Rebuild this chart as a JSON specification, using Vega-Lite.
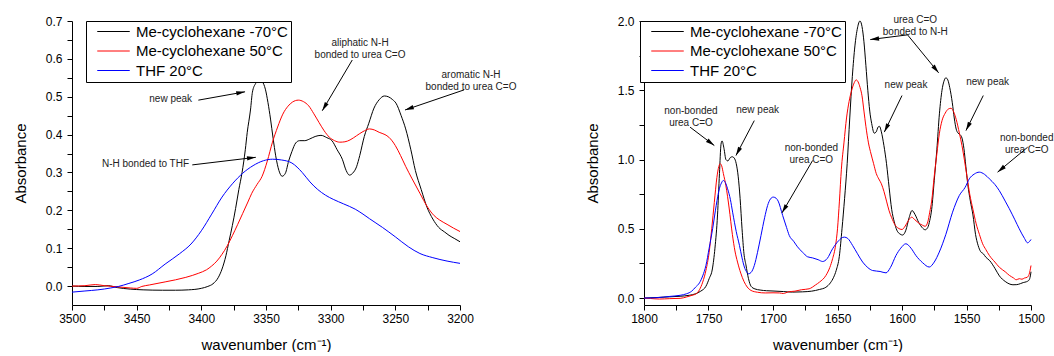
{
  "$schema": "https://vega.github.io/schema/vega-lite/v6.json",
  "padding": {"left": 13, "top": 14, "right": 0, "bottom": 0},
  "bounds": "flush",
  "spacing": 184,
  "config": {
    "font": "Liberation Sans",
    "view": {"stroke": null},
    "axis": {"grid": false, "domainColor": "#000", "tickColor": "#000", "labelColor": "#000", "titleColor": "#000", "labelFontSize": 12, "titleFontSize": 15, "titleFontWeight": "normal", "tickSize": 5, "labelPadding": 3, "labelFlush": false, "labelOverlap": false},
    "axisX": {"titlePadding": 13},
    "axisY": {"titlePadding": 17, "labelPadding": 5},
    "legend": {"orient": "none", "strokeColor": "#000", "strokeWidth": 1, "fillColor": "#fff", "padding": 3, "symbolType": "M-2.5,0L2.5,0", "symbolSize": 169, "symbolStrokeWidth": 1, "symbolOffset": 17, "labelFontSize": 15, "labelColor": "#000", "labelOffset": 15, "rowPadding": 3.5, "title": null}
  },
  "resolve": {"scale": {"color": "independent"}, "legend": {"color": "independent"}},
  "datasets": {
    "left": [
      {"w":3500,"a":0.0,"s":"Me-cyclohexane -70°C"},{"w":3490,"a":-0.001,"s":"Me-cyclohexane -70°C"},{"w":3480,"a":-0.001,"s":"Me-cyclohexane -70°C"},{"w":3472,"a":0.001,"s":"Me-cyclohexane -70°C"},{"w":3465,"a":-0.004,"s":"Me-cyclohexane -70°C"},{"w":3455,"a":-0.008,"s":"Me-cyclohexane -70°C"},{"w":3445,"a":-0.010,"s":"Me-cyclohexane -70°C"},{"w":3430,"a":-0.011,"s":"Me-cyclohexane -70°C"},{"w":3420,"a":-0.011,"s":"Me-cyclohexane -70°C"},{"w":3410,"a":-0.010,"s":"Me-cyclohexane -70°C"},{"w":3400,"a":-0.006,"s":"Me-cyclohexane -70°C"},{"w":3395,"a":-0.001,"s":"Me-cyclohexane -70°C"},{"w":3391,"a":0.006,"s":"Me-cyclohexane -70°C"},{"w":3387,"a":0.022,"s":"Me-cyclohexane -70°C"},{"w":3384,"a":0.045,"s":"Me-cyclohexane -70°C"},{"w":3381,"a":0.08,"s":"Me-cyclohexane -70°C"},{"w":3378.5,"a":0.12,"s":"Me-cyclohexane -70°C"},{"w":3376,"a":0.16,"s":"Me-cyclohexane -70°C"},{"w":3373.5,"a":0.205,"s":"Me-cyclohexane -70°C"},{"w":3371,"a":0.255,"s":"Me-cyclohexane -70°C"},{"w":3368.5,"a":0.30,"s":"Me-cyclohexane -70°C"},{"w":3366,"a":0.36,"s":"Me-cyclohexane -70°C"},{"w":3364.5,"a":0.406,"s":"Me-cyclohexane -70°C"},{"w":3362,"a":0.465,"s":"Me-cyclohexane -70°C"},{"w":3360.5,"a":0.512,"s":"Me-cyclohexane -70°C"},{"w":3358,"a":0.535,"s":"Me-cyclohexane -70°C"},{"w":3355.5,"a":0.544,"s":"Me-cyclohexane -70°C"},{"w":3353,"a":0.54,"s":"Me-cyclohexane -70°C"},{"w":3350.5,"a":0.52,"s":"Me-cyclohexane -70°C"},{"w":3348.5,"a":0.485,"s":"Me-cyclohexane -70°C"},{"w":3346.5,"a":0.441,"s":"Me-cyclohexane -70°C"},{"w":3344.5,"a":0.39,"s":"Me-cyclohexane -70°C"},{"w":3342.5,"a":0.344,"s":"Me-cyclohexane -70°C"},{"w":3340,"a":0.305,"s":"Me-cyclohexane -70°C"},{"w":3337.5,"a":0.29,"s":"Me-cyclohexane -70°C"},{"w":3335,"a":0.298,"s":"Me-cyclohexane -70°C"},{"w":3332.5,"a":0.33,"s":"Me-cyclohexane -70°C"},{"w":3330,"a":0.355,"s":"Me-cyclohexane -70°C"},{"w":3327,"a":0.378,"s":"Me-cyclohexane -70°C"},{"w":3324,"a":0.384,"s":"Me-cyclohexane -70°C"},{"w":3320,"a":0.384,"s":"Me-cyclohexane -70°C"},{"w":3316.5,"a":0.388,"s":"Me-cyclohexane -70°C"},{"w":3312,"a":0.395,"s":"Me-cyclohexane -70°C"},{"w":3307.5,"a":0.398,"s":"Me-cyclohexane -70°C"},{"w":3303,"a":0.392,"s":"Me-cyclohexane -70°C"},{"w":3299,"a":0.384,"s":"Me-cyclohexane -70°C"},{"w":3295,"a":0.36,"s":"Me-cyclohexane -70°C"},{"w":3291,"a":0.335,"s":"Me-cyclohexane -70°C"},{"w":3288,"a":0.305,"s":"Me-cyclohexane -70°C"},{"w":3285.5,"a":0.293,"s":"Me-cyclohexane -70°C"},{"w":3283,"a":0.298,"s":"Me-cyclohexane -70°C"},{"w":3280,"a":0.315,"s":"Me-cyclohexane -70°C"},{"w":3277.5,"a":0.345,"s":"Me-cyclohexane -70°C"},{"w":3274,"a":0.395,"s":"Me-cyclohexane -70°C"},{"w":3270.5,"a":0.43,"s":"Me-cyclohexane -70°C"},{"w":3266.5,"a":0.47,"s":"Me-cyclohexane -70°C"},{"w":3262.5,"a":0.492,"s":"Me-cyclohexane -70°C"},{"w":3258.5,"a":0.502,"s":"Me-cyclohexane -70°C"},{"w":3255.5,"a":0.5,"s":"Me-cyclohexane -70°C"},{"w":3252,"a":0.492,"s":"Me-cyclohexane -70°C"},{"w":3249.5,"a":0.483,"s":"Me-cyclohexane -70°C"},{"w":3245.5,"a":0.45,"s":"Me-cyclohexane -70°C"},{"w":3242,"a":0.415,"s":"Me-cyclohexane -70°C"},{"w":3238,"a":0.36,"s":"Me-cyclohexane -70°C"},{"w":3234.5,"a":0.305,"s":"Me-cyclohexane -70°C"},{"w":3230,"a":0.255,"s":"Me-cyclohexane -70°C"},{"w":3225.5,"a":0.208,"s":"Me-cyclohexane -70°C"},{"w":3221,"a":0.177,"s":"Me-cyclohexane -70°C"},{"w":3216.5,"a":0.155,"s":"Me-cyclohexane -70°C"},{"w":3212,"a":0.143,"s":"Me-cyclohexane -70°C"},{"w":3208.5,"a":0.134,"s":"Me-cyclohexane -70°C"},{"w":3204,"a":0.125,"s":"Me-cyclohexane -70°C"},{"w":3200,"a":0.117,"s":"Me-cyclohexane -70°C"},
      {"w":3500,"a":0.0,"s":"Me-cyclohexane 50°C"},{"w":3490,"a":0.001,"s":"Me-cyclohexane 50°C"},{"w":3482,"a":0.004,"s":"Me-cyclohexane 50°C"},{"w":3475,"a":0.001,"s":"Me-cyclohexane 50°C"},{"w":3465,"a":-0.002,"s":"Me-cyclohexane 50°C"},{"w":3455,"a":-0.005,"s":"Me-cyclohexane 50°C"},{"w":3450,"a":-0.006,"s":"Me-cyclohexane 50°C"},{"w":3446,"a":-0.001,"s":"Me-cyclohexane 50°C"},{"w":3440,"a":0.003,"s":"Me-cyclohexane 50°C"},{"w":3428,"a":0.011,"s":"Me-cyclohexane 50°C"},{"w":3412,"a":0.023,"s":"Me-cyclohexane 50°C"},{"w":3402,"a":0.034,"s":"Me-cyclohexane 50°C"},{"w":3396,"a":0.043,"s":"Me-cyclohexane 50°C"},{"w":3392,"a":0.053,"s":"Me-cyclohexane 50°C"},{"w":3388,"a":0.066,"s":"Me-cyclohexane 50°C"},{"w":3384,"a":0.084,"s":"Me-cyclohexane 50°C"},{"w":3380,"a":0.106,"s":"Me-cyclohexane 50°C"},{"w":3376,"a":0.133,"s":"Me-cyclohexane 50°C"},{"w":3372,"a":0.162,"s":"Me-cyclohexane 50°C"},{"w":3368,"a":0.192,"s":"Me-cyclohexane 50°C"},{"w":3364,"a":0.222,"s":"Me-cyclohexane 50°C"},{"w":3361,"a":0.245,"s":"Me-cyclohexane 50°C"},{"w":3357,"a":0.268,"s":"Me-cyclohexane 50°C"},{"w":3353,"a":0.29,"s":"Me-cyclohexane 50°C"},{"w":3349,"a":0.33,"s":"Me-cyclohexane 50°C"},{"w":3345,"a":0.38,"s":"Me-cyclohexane 50°C"},{"w":3341,"a":0.42,"s":"Me-cyclohexane 50°C"},{"w":3337,"a":0.454,"s":"Me-cyclohexane 50°C"},{"w":3333,"a":0.475,"s":"Me-cyclohexane 50°C"},{"w":3329.5,"a":0.486,"s":"Me-cyclohexane 50°C"},{"w":3325,"a":0.491,"s":"Me-cyclohexane 50°C"},{"w":3321,"a":0.487,"s":"Me-cyclohexane 50°C"},{"w":3317,"a":0.476,"s":"Me-cyclohexane 50°C"},{"w":3313,"a":0.455,"s":"Me-cyclohexane 50°C"},{"w":3309,"a":0.432,"s":"Me-cyclohexane 50°C"},{"w":3305,"a":0.41,"s":"Me-cyclohexane 50°C"},{"w":3301,"a":0.393,"s":"Me-cyclohexane 50°C"},{"w":3297,"a":0.384,"s":"Me-cyclohexane 50°C"},{"w":3293,"a":0.38,"s":"Me-cyclohexane 50°C"},{"w":3289,"a":0.381,"s":"Me-cyclohexane 50°C"},{"w":3285,"a":0.386,"s":"Me-cyclohexane 50°C"},{"w":3280,"a":0.397,"s":"Me-cyclohexane 50°C"},{"w":3275,"a":0.408,"s":"Me-cyclohexane 50°C"},{"w":3270,"a":0.415,"s":"Me-cyclohexane 50°C"},{"w":3266,"a":0.412,"s":"Me-cyclohexane 50°C"},{"w":3262.5,"a":0.406,"s":"Me-cyclohexane 50°C"},{"w":3258,"a":0.4,"s":"Me-cyclohexane 50°C"},{"w":3255,"a":0.393,"s":"Me-cyclohexane 50°C"},{"w":3250,"a":0.371,"s":"Me-cyclohexane 50°C"},{"w":3246,"a":0.345,"s":"Me-cyclohexane 50°C"},{"w":3242,"a":0.316,"s":"Me-cyclohexane 50°C"},{"w":3237,"a":0.283,"s":"Me-cyclohexane 50°C"},{"w":3231,"a":0.245,"s":"Me-cyclohexane 50°C"},{"w":3225,"a":0.208,"s":"Me-cyclohexane 50°C"},{"w":3220,"a":0.186,"s":"Me-cyclohexane 50°C"},{"w":3216,"a":0.175,"s":"Me-cyclohexane 50°C"},{"w":3210,"a":0.163,"s":"Me-cyclohexane 50°C"},{"w":3205,"a":0.153,"s":"Me-cyclohexane 50°C"},{"w":3200,"a":0.144,"s":"Me-cyclohexane 50°C"},
      {"w":3500,"a":-0.016,"s":"THF 20°C"},{"w":3490,"a":-0.013,"s":"THF 20°C"},{"w":3480,"a":-0.010,"s":"THF 20°C"},{"w":3470,"a":-0.005,"s":"THF 20°C"},{"w":3464,"a":-0.001,"s":"THF 20°C"},{"w":3456,"a":0.007,"s":"THF 20°C"},{"w":3448,"a":0.016,"s":"THF 20°C"},{"w":3438,"a":0.032,"s":"THF 20°C"},{"w":3428,"a":0.058,"s":"THF 20°C"},{"w":3417,"a":0.085,"s":"THF 20°C"},{"w":3408,"a":0.111,"s":"THF 20°C"},{"w":3400,"a":0.146,"s":"THF 20°C"},{"w":3392,"a":0.19,"s":"THF 20°C"},{"w":3384,"a":0.235,"s":"THF 20°C"},{"w":3376,"a":0.27,"s":"THF 20°C"},{"w":3368,"a":0.298,"s":"THF 20°C"},{"w":3360,"a":0.318,"s":"THF 20°C"},{"w":3352,"a":0.331,"s":"THF 20°C"},{"w":3345,"a":0.335,"s":"THF 20°C"},{"w":3338,"a":0.333,"s":"THF 20°C"},{"w":3330,"a":0.325,"s":"THF 20°C"},{"w":3322,"a":0.3,"s":"THF 20°C"},{"w":3316,"a":0.275,"s":"THF 20°C"},{"w":3310,"a":0.255,"s":"THF 20°C"},{"w":3304,"a":0.24,"s":"THF 20°C"},{"w":3298,"a":0.229,"s":"THF 20°C"},{"w":3290,"a":0.217,"s":"THF 20°C"},{"w":3281,"a":0.203,"s":"THF 20°C"},{"w":3275,"a":0.19,"s":"THF 20°C"},{"w":3270,"a":0.178,"s":"THF 20°C"},{"w":3260,"a":0.155,"s":"THF 20°C"},{"w":3250,"a":0.13,"s":"THF 20°C"},{"w":3240,"a":0.104,"s":"THF 20°C"},{"w":3231,"a":0.086,"s":"THF 20°C"},{"w":3221,"a":0.075,"s":"THF 20°C"},{"w":3210,"a":0.066,"s":"THF 20°C"},{"w":3200,"a":0.06,"s":"THF 20°C"}
    ],
    "right": [
      {"w":1800,"a":0.0,"s":"Me-cyclohexane -70°C"},{"w":1790,"a":0.004,"s":"Me-cyclohexane -70°C"},{"w":1780,"a":0.009,"s":"Me-cyclohexane -70°C"},{"w":1772,"a":0.013,"s":"Me-cyclohexane -70°C"},{"w":1765,"a":0.02,"s":"Me-cyclohexane -70°C"},{"w":1760,"a":0.031,"s":"Me-cyclohexane -70°C"},{"w":1756,"a":0.05,"s":"Me-cyclohexane -70°C"},{"w":1752,"a":0.085,"s":"Me-cyclohexane -70°C"},{"w":1749.5,"a":0.14,"s":"Me-cyclohexane -70°C"},{"w":1747,"a":0.21,"s":"Me-cyclohexane -70°C"},{"w":1745,"a":0.36,"s":"Me-cyclohexane -70°C"},{"w":1743,"a":0.6,"s":"Me-cyclohexane -70°C"},{"w":1741.5,"a":0.9,"s":"Me-cyclohexane -70°C"},{"w":1740.3,"a":1.11,"s":"Me-cyclohexane -70°C"},{"w":1739.5,"a":1.135,"s":"Me-cyclohexane -70°C"},{"w":1738,"a":1.08,"s":"Me-cyclohexane -70°C"},{"w":1736.5,"a":1.0,"s":"Me-cyclohexane -70°C"},{"w":1735,"a":0.99,"s":"Me-cyclohexane -70°C"},{"w":1733,"a":1.015,"s":"Me-cyclohexane -70°C"},{"w":1731.5,"a":1.02,"s":"Me-cyclohexane -70°C"},{"w":1730,"a":1.01,"s":"Me-cyclohexane -70°C"},{"w":1728.5,"a":0.97,"s":"Me-cyclohexane -70°C"},{"w":1727,"a":0.88,"s":"Me-cyclohexane -70°C"},{"w":1725.5,"a":0.72,"s":"Me-cyclohexane -70°C"},{"w":1724,"a":0.5,"s":"Me-cyclohexane -70°C"},{"w":1722.5,"a":0.32,"s":"Me-cyclohexane -70°C"},{"w":1721,"a":0.24,"s":"Me-cyclohexane -70°C"},{"w":1719,"a":0.14,"s":"Me-cyclohexane -70°C"},{"w":1717,"a":0.085,"s":"Me-cyclohexane -70°C"},{"w":1714,"a":0.066,"s":"Me-cyclohexane -70°C"},{"w":1710,"a":0.058,"s":"Me-cyclohexane -70°C"},{"w":1705,"a":0.053,"s":"Me-cyclohexane -70°C"},{"w":1700,"a":0.051,"s":"Me-cyclohexane -70°C"},{"w":1692,"a":0.047,"s":"Me-cyclohexane -70°C"},{"w":1685,"a":0.043,"s":"Me-cyclohexane -70°C"},{"w":1677,"a":0.045,"s":"Me-cyclohexane -70°C"},{"w":1670,"a":0.05,"s":"Me-cyclohexane -70°C"},{"w":1664,"a":0.062,"s":"Me-cyclohexane -70°C"},{"w":1659,"a":0.078,"s":"Me-cyclohexane -70°C"},{"w":1655.5,"a":0.11,"s":"Me-cyclohexane -70°C"},{"w":1653,"a":0.15,"s":"Me-cyclohexane -70°C"},{"w":1651,"a":0.2,"s":"Me-cyclohexane -70°C"},{"w":1648.6,"a":0.3,"s":"Me-cyclohexane -70°C"},{"w":1646.5,"a":0.5,"s":"Me-cyclohexane -70°C"},{"w":1644.5,"a":0.72,"s":"Me-cyclohexane -70°C"},{"w":1642.5,"a":0.97,"s":"Me-cyclohexane -70°C"},{"w":1640.5,"a":1.3,"s":"Me-cyclohexane -70°C"},{"w":1638.5,"a":1.6,"s":"Me-cyclohexane -70°C"},{"w":1636.5,"a":1.82,"s":"Me-cyclohexane -70°C"},{"w":1634.5,"a":1.95,"s":"Me-cyclohexane -70°C"},{"w":1632.6,"a":2.0,"s":"Me-cyclohexane -70°C"},{"w":1631,"a":1.96,"s":"Me-cyclohexane -70°C"},{"w":1629.5,"a":1.85,"s":"Me-cyclohexane -70°C"},{"w":1628,"a":1.68,"s":"Me-cyclohexane -70°C"},{"w":1626.5,"a":1.5,"s":"Me-cyclohexane -70°C"},{"w":1625,"a":1.35,"s":"Me-cyclohexane -70°C"},{"w":1623.5,"a":1.26,"s":"Me-cyclohexane -70°C"},{"w":1621.5,"a":1.19,"s":"Me-cyclohexane -70°C"},{"w":1620,"a":1.2,"s":"Me-cyclohexane -70°C"},{"w":1618.5,"a":1.235,"s":"Me-cyclohexane -70°C"},{"w":1617.5,"a":1.24,"s":"Me-cyclohexane -70°C"},{"w":1616,"a":1.2,"s":"Me-cyclohexane -70°C"},{"w":1614,"a":1.1,"s":"Me-cyclohexane -70°C"},{"w":1612,"a":0.97,"s":"Me-cyclohexane -70°C"},{"w":1610,"a":0.8,"s":"Me-cyclohexane -70°C"},{"w":1608,"a":0.64,"s":"Me-cyclohexane -70°C"},{"w":1606,"a":0.55,"s":"Me-cyclohexane -70°C"},{"w":1604,"a":0.49,"s":"Me-cyclohexane -70°C"},{"w":1601.5,"a":0.462,"s":"Me-cyclohexane -70°C"},{"w":1599.5,"a":0.455,"s":"Me-cyclohexane -70°C"},{"w":1597,"a":0.49,"s":"Me-cyclohexane -70°C"},{"w":1594.5,"a":0.58,"s":"Me-cyclohexane -70°C"},{"w":1592.2,"a":0.632,"s":"Me-cyclohexane -70°C"},{"w":1590,"a":0.605,"s":"Me-cyclohexane -70°C"},{"w":1587,"a":0.545,"s":"Me-cyclohexane -70°C"},{"w":1584.5,"a":0.51,"s":"Me-cyclohexane -70°C"},{"w":1582,"a":0.493,"s":"Me-cyclohexane -70°C"},{"w":1580,"a":0.51,"s":"Me-cyclohexane -70°C"},{"w":1578.5,"a":0.56,"s":"Me-cyclohexane -70°C"},{"w":1577,"a":0.64,"s":"Me-cyclohexane -70°C"},{"w":1575,"a":0.85,"s":"Me-cyclohexane -70°C"},{"w":1573,"a":1.07,"s":"Me-cyclohexane -70°C"},{"w":1571,"a":1.33,"s":"Me-cyclohexane -70°C"},{"w":1569,"a":1.5,"s":"Me-cyclohexane -70°C"},{"w":1567.5,"a":1.565,"s":"Me-cyclohexane -70°C"},{"w":1566,"a":1.59,"s":"Me-cyclohexane -70°C"},{"w":1564.5,"a":1.575,"s":"Me-cyclohexane -70°C"},{"w":1563,"a":1.52,"s":"Me-cyclohexane -70°C"},{"w":1561,"a":1.41,"s":"Me-cyclohexane -70°C"},{"w":1559.5,"a":1.3,"s":"Me-cyclohexane -70°C"},{"w":1558,"a":1.22,"s":"Me-cyclohexane -70°C"},{"w":1556.5,"a":1.19,"s":"Me-cyclohexane -70°C"},{"w":1555,"a":1.18,"s":"Me-cyclohexane -70°C"},{"w":1553.5,"a":1.155,"s":"Me-cyclohexane -70°C"},{"w":1552,"a":1.08,"s":"Me-cyclohexane -70°C"},{"w":1550.5,"a":0.95,"s":"Me-cyclohexane -70°C"},{"w":1549,"a":0.82,"s":"Me-cyclohexane -70°C"},{"w":1547,"a":0.7,"s":"Me-cyclohexane -70°C"},{"w":1545,"a":0.6,"s":"Me-cyclohexane -70°C"},{"w":1543,"a":0.46,"s":"Me-cyclohexane -70°C"},{"w":1541,"a":0.38,"s":"Me-cyclohexane -70°C"},{"w":1539,"a":0.335,"s":"Me-cyclohexane -70°C"},{"w":1537,"a":0.32,"s":"Me-cyclohexane -70°C"},{"w":1535,"a":0.295,"s":"Me-cyclohexane -70°C"},{"w":1532,"a":0.27,"s":"Me-cyclohexane -70°C"},{"w":1528,"a":0.215,"s":"Me-cyclohexane -70°C"},{"w":1524.5,"a":0.16,"s":"Me-cyclohexane -70°C"},{"w":1520,"a":0.12,"s":"Me-cyclohexane -70°C"},{"w":1517,"a":0.103,"s":"Me-cyclohexane -70°C"},{"w":1514,"a":0.096,"s":"Me-cyclohexane -70°C"},{"w":1511,"a":0.097,"s":"Me-cyclohexane -70°C"},{"w":1508,"a":0.105,"s":"Me-cyclohexane -70°C"},{"w":1506,"a":0.112,"s":"Me-cyclohexane -70°C"},{"w":1503.5,"a":0.118,"s":"Me-cyclohexane -70°C"},{"w":1501.5,"a":0.13,"s":"Me-cyclohexane -70°C"},{"w":1500.5,"a":0.16,"s":"Me-cyclohexane -70°C"},{"w":1500,"a":0.19,"s":"Me-cyclohexane -70°C"},
      {"w":1800,"a":0.0,"s":"Me-cyclohexane 50°C"},{"w":1795,"a":-0.003,"s":"Me-cyclohexane 50°C"},{"w":1788,"a":-0.007,"s":"Me-cyclohexane 50°C"},{"w":1780,"a":-0.004,"s":"Me-cyclohexane 50°C"},{"w":1772,"a":-0.002,"s":"Me-cyclohexane 50°C"},{"w":1767,"a":0.008,"s":"Me-cyclohexane 50°C"},{"w":1762,"a":0.022,"s":"Me-cyclohexane 50°C"},{"w":1759.5,"a":0.031,"s":"Me-cyclohexane 50°C"},{"w":1757,"a":0.06,"s":"Me-cyclohexane 50°C"},{"w":1754.5,"a":0.115,"s":"Me-cyclohexane 50°C"},{"w":1752,"a":0.2,"s":"Me-cyclohexane 50°C"},{"w":1749.5,"a":0.33,"s":"Me-cyclohexane 50°C"},{"w":1747.5,"a":0.5,"s":"Me-cyclohexane 50°C"},{"w":1745.5,"a":0.69,"s":"Me-cyclohexane 50°C"},{"w":1743.5,"a":0.87,"s":"Me-cyclohexane 50°C"},{"w":1742,"a":0.95,"s":"Me-cyclohexane 50°C"},{"w":1741,"a":0.97,"s":"Me-cyclohexane 50°C"},{"w":1739.8,"a":0.955,"s":"Me-cyclohexane 50°C"},{"w":1738.5,"a":0.9,"s":"Me-cyclohexane 50°C"},{"w":1736.5,"a":0.81,"s":"Me-cyclohexane 50°C"},{"w":1734,"a":0.65,"s":"Me-cyclohexane 50°C"},{"w":1731.5,"a":0.46,"s":"Me-cyclohexane 50°C"},{"w":1729.5,"a":0.34,"s":"Me-cyclohexane 50°C"},{"w":1727.5,"a":0.26,"s":"Me-cyclohexane 50°C"},{"w":1725,"a":0.18,"s":"Me-cyclohexane 50°C"},{"w":1722.5,"a":0.12,"s":"Me-cyclohexane 50°C"},{"w":1720,"a":0.08,"s":"Me-cyclohexane 50°C"},{"w":1717,"a":0.055,"s":"Me-cyclohexane 50°C"},{"w":1712,"a":0.042,"s":"Me-cyclohexane 50°C"},{"w":1706,"a":0.037,"s":"Me-cyclohexane 50°C"},{"w":1700,"a":0.038,"s":"Me-cyclohexane 50°C"},{"w":1695,"a":0.037,"s":"Me-cyclohexane 50°C"},{"w":1692,"a":0.033,"s":"Me-cyclohexane 50°C"},{"w":1688,"a":0.045,"s":"Me-cyclohexane 50°C"},{"w":1683,"a":0.05,"s":"Me-cyclohexane 50°C"},{"w":1678,"a":0.06,"s":"Me-cyclohexane 50°C"},{"w":1672,"a":0.067,"s":"Me-cyclohexane 50°C"},{"w":1667,"a":0.095,"s":"Me-cyclohexane 50°C"},{"w":1664,"a":0.115,"s":"Me-cyclohexane 50°C"},{"w":1659,"a":0.163,"s":"Me-cyclohexane 50°C"},{"w":1656,"a":0.22,"s":"Me-cyclohexane 50°C"},{"w":1653.8,"a":0.284,"s":"Me-cyclohexane 50°C"},{"w":1651.5,"a":0.38,"s":"Me-cyclohexane 50°C"},{"w":1650,"a":0.5,"s":"Me-cyclohexane 50°C"},{"w":1648.5,"a":0.7,"s":"Me-cyclohexane 50°C"},{"w":1647,"a":0.93,"s":"Me-cyclohexane 50°C"},{"w":1645,"a":1.12,"s":"Me-cyclohexane 50°C"},{"w":1643,"a":1.3,"s":"Me-cyclohexane 50°C"},{"w":1641,"a":1.42,"s":"Me-cyclohexane 50°C"},{"w":1639,"a":1.5,"s":"Me-cyclohexane 50°C"},{"w":1637,"a":1.555,"s":"Me-cyclohexane 50°C"},{"w":1635.5,"a":1.575,"s":"Me-cyclohexane 50°C"},{"w":1634,"a":1.56,"s":"Me-cyclohexane 50°C"},{"w":1632.5,"a":1.52,"s":"Me-cyclohexane 50°C"},{"w":1631,"a":1.46,"s":"Me-cyclohexane 50°C"},{"w":1629.5,"a":1.35,"s":"Me-cyclohexane 50°C"},{"w":1628,"a":1.24,"s":"Me-cyclohexane 50°C"},{"w":1626,"a":1.12,"s":"Me-cyclohexane 50°C"},{"w":1624,"a":1.04,"s":"Me-cyclohexane 50°C"},{"w":1622,"a":0.97,"s":"Me-cyclohexane 50°C"},{"w":1620,"a":0.9,"s":"Me-cyclohexane 50°C"},{"w":1618,"a":0.86,"s":"Me-cyclohexane 50°C"},{"w":1616,"a":0.825,"s":"Me-cyclohexane 50°C"},{"w":1614,"a":0.77,"s":"Me-cyclohexane 50°C"},{"w":1612,"a":0.7,"s":"Me-cyclohexane 50°C"},{"w":1610,"a":0.63,"s":"Me-cyclohexane 50°C"},{"w":1608,"a":0.58,"s":"Me-cyclohexane 50°C"},{"w":1605.5,"a":0.53,"s":"Me-cyclohexane 50°C"},{"w":1603,"a":0.505,"s":"Me-cyclohexane 50°C"},{"w":1600,"a":0.495,"s":"Me-cyclohexane 50°C"},{"w":1597.5,"a":0.52,"s":"Me-cyclohexane 50°C"},{"w":1595,"a":0.56,"s":"Me-cyclohexane 50°C"},{"w":1592.5,"a":0.584,"s":"Me-cyclohexane 50°C"},{"w":1590,"a":0.565,"s":"Me-cyclohexane 50°C"},{"w":1587.5,"a":0.545,"s":"Me-cyclohexane 50°C"},{"w":1584,"a":0.525,"s":"Me-cyclohexane 50°C"},{"w":1582,"a":0.518,"s":"Me-cyclohexane 50°C"},{"w":1580,"a":0.55,"s":"Me-cyclohexane 50°C"},{"w":1578.5,"a":0.62,"s":"Me-cyclohexane 50°C"},{"w":1577,"a":0.7,"s":"Me-cyclohexane 50°C"},{"w":1575,"a":0.88,"s":"Me-cyclohexane 50°C"},{"w":1573,"a":1.04,"s":"Me-cyclohexane 50°C"},{"w":1571,"a":1.19,"s":"Me-cyclohexane 50°C"},{"w":1569,"a":1.28,"s":"Me-cyclohexane 50°C"},{"w":1566.5,"a":1.335,"s":"Me-cyclohexane 50°C"},{"w":1564,"a":1.365,"s":"Me-cyclohexane 50°C"},{"w":1562,"a":1.37,"s":"Me-cyclohexane 50°C"},{"w":1560,"a":1.345,"s":"Me-cyclohexane 50°C"},{"w":1558,"a":1.29,"s":"Me-cyclohexane 50°C"},{"w":1555.5,"a":1.19,"s":"Me-cyclohexane 50°C"},{"w":1553.5,"a":1.1,"s":"Me-cyclohexane 50°C"},{"w":1551.5,"a":0.99,"s":"Me-cyclohexane 50°C"},{"w":1549.5,"a":0.87,"s":"Me-cyclohexane 50°C"},{"w":1547.5,"a":0.75,"s":"Me-cyclohexane 50°C"},{"w":1545,"a":0.64,"s":"Me-cyclohexane 50°C"},{"w":1542.5,"a":0.536,"s":"Me-cyclohexane 50°C"},{"w":1540,"a":0.46,"s":"Me-cyclohexane 50°C"},{"w":1537.5,"a":0.392,"s":"Me-cyclohexane 50°C"},{"w":1535,"a":0.35,"s":"Me-cyclohexane 50°C"},{"w":1532.3,"a":0.308,"s":"Me-cyclohexane 50°C"},{"w":1528,"a":0.26,"s":"Me-cyclohexane 50°C"},{"w":1524.5,"a":0.222,"s":"Me-cyclohexane 50°C"},{"w":1520,"a":0.19,"s":"Me-cyclohexane 50°C"},{"w":1516.8,"a":0.164,"s":"Me-cyclohexane 50°C"},{"w":1513.5,"a":0.145,"s":"Me-cyclohexane 50°C"},{"w":1511.5,"a":0.132,"s":"Me-cyclohexane 50°C"},{"w":1509,"a":0.14,"s":"Me-cyclohexane 50°C"},{"w":1507,"a":0.136,"s":"Me-cyclohexane 50°C"},{"w":1505,"a":0.145,"s":"Me-cyclohexane 50°C"},{"w":1503,"a":0.15,"s":"Me-cyclohexane 50°C"},{"w":1501.5,"a":0.17,"s":"Me-cyclohexane 50°C"},{"w":1500,"a":0.235,"s":"Me-cyclohexane 50°C"},
      {"w":1800,"a":0.0,"s":"THF 20°C"},{"w":1790,"a":0.003,"s":"THF 20°C"},{"w":1780,"a":0.012,"s":"THF 20°C"},{"w":1772,"a":0.02,"s":"THF 20°C"},{"w":1767,"a":0.031,"s":"THF 20°C"},{"w":1763,"a":0.05,"s":"THF 20°C"},{"w":1760,"a":0.079,"s":"THF 20°C"},{"w":1757,"a":0.11,"s":"THF 20°C"},{"w":1754.5,"a":0.16,"s":"THF 20°C"},{"w":1752,"a":0.235,"s":"THF 20°C"},{"w":1749.5,"a":0.36,"s":"THF 20°C"},{"w":1746.8,"a":0.5,"s":"THF 20°C"},{"w":1744,"a":0.67,"s":"THF 20°C"},{"w":1741.6,"a":0.789,"s":"THF 20°C"},{"w":1740,"a":0.83,"s":"THF 20°C"},{"w":1738.5,"a":0.849,"s":"THF 20°C"},{"w":1737,"a":0.835,"s":"THF 20°C"},{"w":1735.2,"a":0.789,"s":"THF 20°C"},{"w":1733,"a":0.71,"s":"THF 20°C"},{"w":1731.3,"a":0.62,"s":"THF 20°C"},{"w":1728.5,"a":0.48,"s":"THF 20°C"},{"w":1726,"a":0.38,"s":"THF 20°C"},{"w":1724,"a":0.29,"s":"THF 20°C"},{"w":1722.2,"a":0.224,"s":"THF 20°C"},{"w":1720.5,"a":0.19,"s":"THF 20°C"},{"w":1719,"a":0.175,"s":"THF 20°C"},{"w":1717,"a":0.185,"s":"THF 20°C"},{"w":1714.5,"a":0.235,"s":"THF 20°C"},{"w":1712,"a":0.33,"s":"THF 20°C"},{"w":1709.3,"a":0.452,"s":"THF 20°C"},{"w":1706.5,"a":0.58,"s":"THF 20°C"},{"w":1704.2,"a":0.668,"s":"THF 20°C"},{"w":1702,"a":0.715,"s":"THF 20°C"},{"w":1699.8,"a":0.729,"s":"THF 20°C"},{"w":1697.5,"a":0.72,"s":"THF 20°C"},{"w":1696,"a":0.7,"s":"THF 20°C"},{"w":1692.5,"a":0.596,"s":"THF 20°C"},{"w":1689.5,"a":0.51,"s":"THF 20°C"},{"w":1687.4,"a":0.452,"s":"THF 20°C"},{"w":1684,"a":0.41,"s":"THF 20°C"},{"w":1681,"a":0.37,"s":"THF 20°C"},{"w":1677,"a":0.33,"s":"THF 20°C"},{"w":1673.2,"a":0.298,"s":"THF 20°C"},{"w":1669.3,"a":0.29,"s":"THF 20°C"},{"w":1665,"a":0.277,"s":"THF 20°C"},{"w":1661.5,"a":0.264,"s":"THF 20°C"},{"w":1658,"a":0.285,"s":"THF 20°C"},{"w":1653.8,"a":0.356,"s":"THF 20°C"},{"w":1649,"a":0.415,"s":"THF 20°C"},{"w":1646,"a":0.438,"s":"THF 20°C"},{"w":1644.7,"a":0.44,"s":"THF 20°C"},{"w":1642,"a":0.43,"s":"THF 20°C"},{"w":1638.3,"a":0.38,"s":"THF 20°C"},{"w":1634.5,"a":0.32,"s":"THF 20°C"},{"w":1630.5,"a":0.26,"s":"THF 20°C"},{"w":1626.5,"a":0.22,"s":"THF 20°C"},{"w":1622.8,"a":0.199,"s":"THF 20°C"},{"w":1617,"a":0.192,"s":"THF 20°C"},{"w":1612.4,"a":0.182,"s":"THF 20°C"},{"w":1609,"a":0.22,"s":"THF 20°C"},{"w":1604.7,"a":0.307,"s":"THF 20°C"},{"w":1601,"a":0.36,"s":"THF 20°C"},{"w":1597,"a":0.392,"s":"THF 20°C"},{"w":1593,"a":0.36,"s":"THF 20°C"},{"w":1589.2,"a":0.307,"s":"THF 20°C"},{"w":1584,"a":0.255,"s":"THF 20°C"},{"w":1578.9,"a":0.224,"s":"THF 20°C"},{"w":1575,"a":0.26,"s":"THF 20°C"},{"w":1571.1,"a":0.332,"s":"THF 20°C"},{"w":1566,"a":0.46,"s":"THF 20°C"},{"w":1560.8,"a":0.62,"s":"THF 20°C"},{"w":1555.6,"a":0.74,"s":"THF 20°C"},{"w":1551,"a":0.8,"s":"THF 20°C"},{"w":1547.8,"a":0.861,"s":"THF 20°C"},{"w":1544,"a":0.895,"s":"THF 20°C"},{"w":1540.1,"a":0.909,"s":"THF 20°C"},{"w":1536,"a":0.893,"s":"THF 20°C"},{"w":1532.3,"a":0.861,"s":"THF 20°C"},{"w":1528,"a":0.82,"s":"THF 20°C"},{"w":1524.6,"a":0.776,"s":"THF 20°C"},{"w":1520,"a":0.7,"s":"THF 20°C"},{"w":1516.8,"a":0.645,"s":"THF 20°C"},{"w":1512.5,"a":0.565,"s":"THF 20°C"},{"w":1509.1,"a":0.5,"s":"THF 20°C"},{"w":1505,"a":0.43,"s":"THF 20°C"},{"w":1502.7,"a":0.399,"s":"THF 20°C"},{"w":1501,"a":0.41,"s":"THF 20°C"},{"w":1500,"a":0.423,"s":"THF 20°C"}
    ],
    "leftNotes": [
      {"t":["new peak"],"w":3423.7,"a":0.494},
      {"t":["N-H bonded to THF"],"w":3443.2,"a":0.322},
      {"t":["aliphatic N-H","bonded to urea C=O"],"w":3277.3,"a":0.643},
      {"t":["aromatic N-H","bonded to urea C=O"],"w":3191.5,"a":0.558}
    ],
    "leftArrows": [
      {"w":3402.3,"a":0.491,"w2":3366.2,"a2":0.513},
      {"w":3407.0,"a":0.320,"w2":3357.9,"a2":0.340},
      {"w":3283.3,"a":0.597,"w2":3306.5,"a2":0.463},
      {"w":3196.9,"a":0.518,"w2":3242.5,"a2":0.465}
    ],
    "rightNotes": [
      {"t":["non-bonded","urea C=O"],"w":1763.6,"a":1.351},
      {"t":["new peak"],"w":1711.9,"a":1.354},
      {"t":["non-bonded","urea C=O"],"w":1670.3,"a":1.086},
      {"t":["urea C=O","bonded to N-H"],"w":1589.7,"a":2.008},
      {"t":["new peak"],"w":1596.9,"a":1.539},
      {"t":["new peak"],"w":1533.6,"a":1.558},
      {"t":["non-bonded","urea C=O"],"w":1503.3,"a":1.157}
    ],
    "rightArrows": [
      {"w":1764.3,"a":1.234,"w2":1745.5,"a2":1.101},
      {"w":1714.5,"a":1.281,"w2":1728.7,"a2":1.029},
      {"w":1669.3,"a":0.993,"w2":1693.0,"a2":0.615},
      {"w":1595.7,"a":1.9,"w2":1624.6,"a2":1.866},
      {"w":1595.7,"a":1.9,"w2":1571.6,"a2":1.626},
      {"w":1600,"a":1.462,"w2":1613.7,"a2":1.198},
      {"w":1537,"a":1.462,"w2":1550.4,"a2":1.209},
      {"w":1502.6,"a":1.089,"w2":1525.9,"a2":0.909}
    ]
  },
  "hconcat": [
    {
      "width": 388,
      "height": 284,
      "encoding": {
        "x": {"field": "w", "type": "quantitative", "title": "wavenumber (cm⁻¹)",
              "scale": {"domain": [3200, 3500], "reverse": true, "nice": false, "zero": false},
              "axis": {"values": [3200,3225,3250,3275,3300,3325,3350,3375,3400,3425,3450,3475,3500], "format": "d", "labelExpr": "datum.value % 50 == 0 ? datum.label : ''"}},
        "y": {"field": "a", "type": "quantitative", "title": "Absorbance",
              "scale": {"domain": [-0.05, 0.7], "nice": false, "zero": false},
              "axis": {"values": [0,0.05,0.1,0.15,0.2,0.25,0.3,0.35,0.4,0.45,0.5,0.55,0.6,0.65,0.7], "labelExpr": "round(datum.value*100) % 10 == 0 ? format(datum.value, '.1f') : ''"}}
      },
      "layer": [
        {
          "data": {"name": "left"},
          "mark": {"type": "line", "strokeWidth": 1, "interpolate": "monotone"},
          "encoding": {
            "order": {"field": "w", "sort": "descending"},
            "color": {"field": "s", "type": "nominal",
                      "scale": {"domain": ["Me-cyclohexane -70°C", "Me-cyclohexane 50°C", "THF 20°C"], "range": ["#000000", "#ff0000", "#0000ff"]},
                      "legend": {"legendX": 14, "legendY": 0}}
          }
        },
        {
          "data": {"name": "leftNotes"},
          "mark": {"type": "text", "fontSize": 10, "color": "#222", "lineHeight": 12, "align": "center", "baseline": "middle"},
          "encoding": {"text": {"field": "t"}}
        },
        {
          "data": {"name": "leftArrows"},
          "mark": {"type": "rule", "color": "#000", "strokeWidth": 1},
          "encoding": {"x2": {"field": "w2"}, "y2": {"field": "a2"}}
        },
        {
          "data": {"name": "leftArrows"},
          "transform": [{"calculate": "atan2(-(datum.w2-datum.w)*1.2933, (datum.a2-datum.a)*378.7)*180/PI", "as": "ang"}],
          "mark": {"type": "point", "shape": "M0,0L0.55,2.2L-0.55,2.2Z", "filled": true, "size": 64, "color": "#000", "opacity": 1, "strokeWidth": 0},
          "encoding": {
            "x": {"field": "w2", "type": "quantitative", "title": "wavenumber (cm⁻¹)", "scale": {"domain": [3200, 3500], "reverse": true, "nice": false, "zero": false}},
            "y": {"field": "a2", "type": "quantitative", "title": "Absorbance", "scale": {"domain": [-0.05, 0.7], "nice": false, "zero": false}},
            "angle": {"field": "ang", "type": "quantitative", "scale": null}
          }
        }
      ]
    },
    {
      "width": 387,
      "height": 284,
      "encoding": {
        "x": {"field": "w", "type": "quantitative", "title": "wavenumber (cm⁻¹)",
              "scale": {"domain": [1500, 1800], "reverse": true, "nice": false, "zero": false},
              "axis": {"values": [1500,1525,1550,1575,1600,1625,1650,1675,1700,1725,1750,1775,1800], "format": "d", "labelExpr": "datum.value % 50 == 0 ? datum.label : ''"}},
        "y": {"field": "a", "type": "quantitative", "title": "Absorbance",
              "scale": {"domain": [-0.05, 2.0], "nice": false, "zero": false},
              "axis": {"values": [0,0.25,0.5,0.75,1,1.25,1.5,1.75,2], "labelExpr": "round(datum.value*100) % 50 == 0 ? format(datum.value, '.1f') : ''"}}
      },
      "layer": [
        {
          "data": {"name": "right"},
          "mark": {"type": "line", "strokeWidth": 1, "interpolate": "monotone"},
          "encoding": {
            "order": {"field": "w", "sort": "descending"},
            "color": {"field": "s", "type": "nominal",
                      "scale": {"domain": ["Me-cyclohexane -70°C", "Me-cyclohexane 50°C", "THF 20°C"], "range": ["#000000", "#ff0000", "#0000ff"]},
                      "legend": {"legendX": -4, "legendY": 0}}
          }
        },
        {
          "data": {"name": "rightNotes"},
          "mark": {"type": "text", "fontSize": 10, "color": "#222", "lineHeight": 12, "align": "center", "baseline": "middle"},
          "encoding": {"text": {"field": "t"}}
        },
        {
          "data": {"name": "rightArrows"},
          "mark": {"type": "rule", "color": "#000", "strokeWidth": 1},
          "encoding": {"x2": {"field": "w2"}, "y2": {"field": "a2"}}
        },
        {
          "data": {"name": "rightArrows"},
          "transform": [{"calculate": "atan2(-(datum.w2-datum.w)*1.29, (datum.a2-datum.a)*138.5)*180/PI", "as": "ang"}],
          "mark": {"type": "point", "shape": "M0,0L0.55,2.2L-0.55,2.2Z", "filled": true, "size": 64, "color": "#000", "opacity": 1, "strokeWidth": 0},
          "encoding": {
            "x": {"field": "w2", "type": "quantitative", "title": "wavenumber (cm⁻¹)", "scale": {"domain": [1500, 1800], "reverse": true, "nice": false, "zero": false}},
            "y": {"field": "a2", "type": "quantitative", "title": "Absorbance", "scale": {"domain": [-0.05, 2.0], "nice": false, "zero": false}},
            "angle": {"field": "ang", "type": "quantitative", "scale": null}
          }
        }
      ]
    }
  ]
}
